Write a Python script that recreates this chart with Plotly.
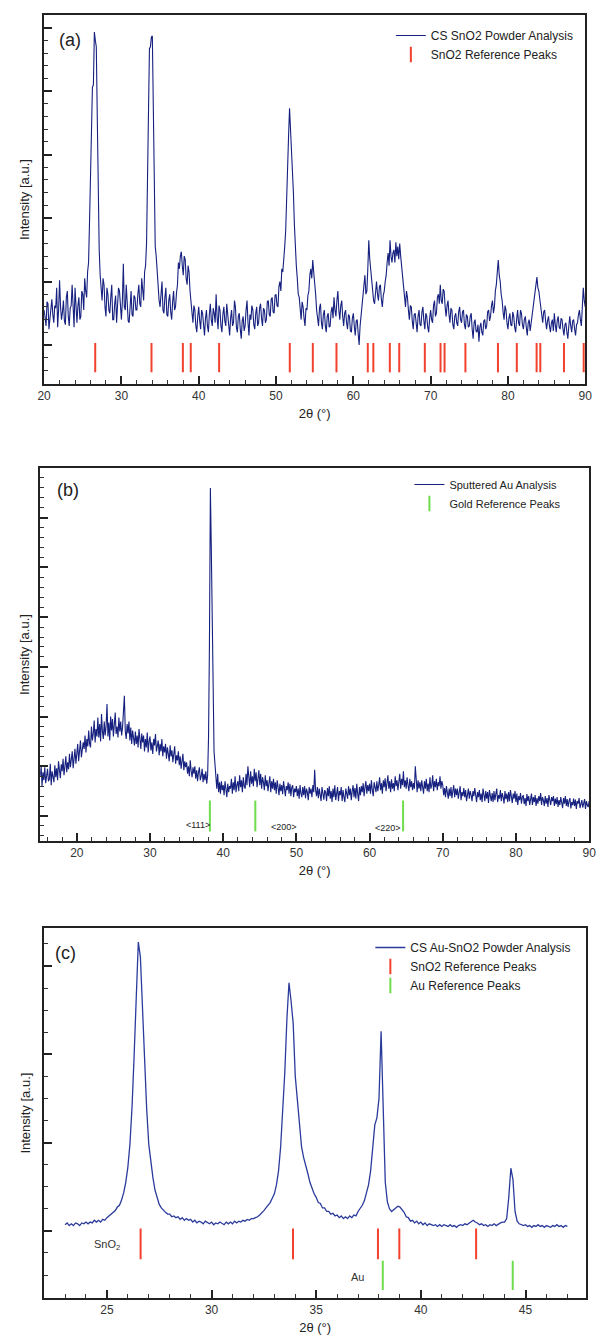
import numpy as np
import plotly.graph_objects as go

# ---------------- data ----------------
# (a) CS SnO2 powder, 2theta from 20 deg, step 0.125 deg
start_a, step_a = 20.0, 0.125
intensity_a = [
    0.55, 0.42, 0.30, 0.68, 0.65, 0.25, 0.40, 0.60,
    0.72, 0.48, 0.35, 0.62, 0.58, 0.90, 0.28, 0.55,
    1.02, 0.60, 0.40, 0.52, 0.70, 0.38, 0.32, 0.75,
    0.85, 0.45, 0.30, 0.58, 0.62, 0.95, 0.42, 0.28,
    0.90, 0.50, 0.35, 0.62, 0.75, 0.40, 0.45, 0.85,
    0.80, 0.55, 1.05, 0.85, 0.75, 1.15, 1.30, 1.95,
    2.70, 3.50, 4.06, 4.10, 4.93, 4.80, 4.70, 3.60,
    2.20, 1.50, 1.10, 0.85, 0.70, 1.05, 0.95, 0.60,
    0.45, 0.90, 0.80, 0.55, 0.50, 0.75, 0.95, 0.40,
    0.40, 0.65, 0.78, 0.35, 0.55, 0.90, 0.85, 0.50,
    0.40, 0.70, 1.28, 0.60, 0.55, 0.95, 0.70, 0.38,
    0.35, 0.60, 0.85, 0.48, 0.45, 0.78, 0.75, 0.55,
    0.55, 0.80, 0.95, 0.65, 0.60, 1.05, 0.80, 0.70,
    1.15, 1.25, 1.60, 2.65, 3.20, 4.67, 4.70, 4.85,
    4.87, 3.50, 2.00, 1.55, 1.40, 1.15, 0.95, 0.70,
    0.60, 0.85, 1.00, 0.55, 0.50, 0.75, 0.90, 0.48,
    0.45, 0.70, 0.80, 0.52, 0.40, 0.68, 0.85, 0.55,
    0.60, 0.82, 0.95, 1.30, 1.20, 1.40, 1.47, 1.25,
    1.10, 1.40, 1.35, 1.05, 0.95, 1.25, 1.15, 0.85,
    0.70, 0.50, 0.35, 0.62, 0.55, 0.30, 0.20, 0.45,
    0.60, 0.38, 0.25, 0.55, 0.50, 0.32, 0.15, 0.42,
    0.55, 0.30, 0.20, 0.48, 0.65, 0.40, 0.30, 0.58,
    0.50, 0.35, 0.80, 0.45, 0.25, 0.62, 0.55, 0.30,
    0.20, 0.48, 0.60, 0.38, 0.30, 0.65, 0.50, 0.25,
    0.15, 0.42, 0.55, 0.30, 0.35, 0.70, 0.60, 0.28,
    0.20, 0.45, 0.50, 0.25, 0.10, 0.38, 0.45, 0.22,
    0.30, 0.55, 0.70, 0.35, 0.15, 0.48, 0.40, 0.62,
    0.55, 0.32, 0.25, 0.50, 0.60, 0.30, 0.35, 0.58,
    0.65, 0.42, 0.30, 0.58, 0.55, 0.35, 0.40, 0.68,
    0.70, 0.48, 0.45, 0.72, 0.75, 0.52, 0.50, 0.78,
    0.80, 0.62, 0.60, 0.92, 1.00, 0.85, 1.20, 1.15,
    1.30, 1.55, 1.80, 2.20, 2.76, 3.30, 3.73, 3.40,
    3.10, 2.85, 2.40, 1.90, 1.50, 1.25, 1.05, 0.80,
    0.75, 0.55, 0.40, 0.68, 0.60, 0.42, 0.30, 0.58,
    0.55, 0.78, 0.85, 1.10, 1.20, 1.05, 1.34, 1.15,
    1.00, 0.80, 0.55, 0.40, 0.30, 0.58, 0.65, 0.35,
    0.25, 0.48, 0.55, 0.30, 0.20, 0.45, 0.50, 0.28,
    0.30, 0.52, 0.60, 0.42, 0.75, 0.55, 0.45, 0.70,
    0.85, 0.55, 0.40, 0.62, 0.70, 0.45, 0.30, 0.50,
    0.55, 0.35, 0.25, 0.48, 0.45, 0.22, 0.20, 0.42,
    0.50, 0.30, 0.15, 0.38, 0.40, 0.18, 0.00, 0.30,
    0.45, 0.62, 0.70, 0.95, 1.10, 0.80, 0.85, 1.20,
    1.65, 1.35, 1.20, 0.95, 0.90, 0.70, 0.65, 0.88,
    1.00, 0.80, 0.70, 0.92, 0.95, 0.72, 0.60, 0.78,
    0.85, 1.00, 1.10, 1.30, 1.45, 1.25, 1.65, 1.40,
    1.30, 1.45, 1.50, 1.30, 1.62, 1.40, 1.55, 1.35,
    1.60, 1.40, 1.25, 1.05, 0.95, 0.80, 0.60, 0.85,
    0.75, 0.55, 0.40, 0.62, 0.60, 0.38, 0.25, 0.48,
    0.50, 0.35, 0.20, 0.45, 0.55, 0.32, 0.30, 0.52,
    0.60, 0.38, 0.25, 0.50, 0.45, 0.28, 0.20, 0.42,
    0.55, 0.40, 0.35, 0.62, 0.70, 0.45, 0.50, 0.75,
    0.80, 0.65, 0.95, 0.70, 0.65, 0.88, 0.85, 0.60,
    0.45, 0.62, 0.70, 0.48, 0.35, 0.58, 0.55, 0.32,
    0.25, 0.45, 0.50, 0.35, 0.30, 0.52, 0.60, 0.40,
    0.35, 0.52, 0.55, 0.32, 0.25, 0.48, 0.45, 0.28,
    0.30, 0.45, 0.50, 0.25, 0.10, 0.35, 0.40, 0.22,
    0.20, 0.32, 0.05, 0.28, 0.35, 0.20, 0.15, 0.38,
    0.40, 0.25, 0.30, 0.52, 0.55, 0.38, 0.45, 0.62,
    0.70, 0.50, 0.60, 0.85, 0.95, 1.15, 1.34, 1.10,
    1.00, 0.80, 0.70, 0.52, 0.40, 0.62, 0.55, 0.35,
    0.25, 0.42, 0.50, 0.32, 0.30, 0.52, 0.45, 0.28,
    0.20, 0.40, 0.55, 0.35, 0.30, 0.55, 0.50, 0.32,
    0.25, 0.40, 0.45, 0.28, 0.15, 0.35, 0.40, 0.22,
    0.35, 0.50, 0.60, 0.72, 0.80, 0.95, 1.07, 0.90,
    0.85, 0.72, 0.60, 0.42, 0.35, 0.52, 0.55, 0.38,
    0.25, 0.38, 0.45, 0.30, 0.20, 0.35, 0.40, 0.22,
    0.50, 0.32, 0.20, 0.38, 0.45, 0.28, 0.25, 0.42,
    0.40, 0.25, 0.15, 0.32, 0.35, 0.20, 0.10, 0.30,
    0.45, 0.30, 0.20, 0.38, 0.40, 0.25, 0.15, 0.32,
    0.35, 0.48, 0.55, 0.40, 0.30, 0.60, 0.90, 0.70,
    0.60,
]
sno2_peaks_a = [26.61, 33.89, 37.95, 38.97, 42.64, 51.78, 54.76, 57.82, 61.87,
                62.59, 64.72, 65.94, 69.25, 71.28, 71.80, 74.50, 78.71, 81.15,
                83.71, 84.19, 87.25, 89.80]

# (b) sputtered Au, 2theta from 15 deg, step 0.125 deg
start_b, step_b = 15.0, 0.125
intensity_b = [
    0.80, 1.02, 0.60, 0.88, 0.72, 0.98, 0.66, 0.84,
    0.95, 0.70, 0.74, 1.05, 0.62, 0.90, 0.80, 0.68,
    1.02, 0.78, 0.96, 0.72, 1.10, 0.85, 0.76, 1.04,
    0.90, 1.15, 0.82, 1.00, 1.20, 0.88, 1.08, 0.94,
    1.25, 0.98, 1.12, 1.30, 0.96, 1.18, 1.35, 1.05,
    1.22, 1.45, 1.10, 1.38, 1.52, 1.18, 1.30, 1.48,
    1.35, 1.62, 1.28, 1.55, 1.40, 1.72, 1.45, 1.38,
    1.80, 1.52, 1.66, 1.92, 1.48, 1.75, 1.60, 1.98,
    1.58, 1.85, 1.50, 2.05, 1.70, 1.55, 1.90, 1.62,
    1.80, 2.25, 1.60, 1.88, 1.52, 2.00, 1.72, 1.95,
    1.60, 1.88, 2.08, 1.65, 1.80, 1.58, 1.98, 1.70,
    1.90, 1.62, 1.78, 2.10, 2.42, 1.70, 1.55, 1.85,
    1.66, 1.90, 1.52, 1.78, 1.45, 1.72, 1.60, 1.42,
    1.70, 1.45, 1.62, 1.38, 1.75, 1.52, 1.35, 1.66,
    1.48, 1.62, 1.30, 1.55, 1.38, 1.68, 1.28, 1.50,
    1.60, 1.32, 1.48, 1.25, 1.55, 1.42, 1.65, 1.30,
    1.38, 1.52, 1.22, 1.45, 1.30, 1.55, 1.20, 1.40,
    1.28, 1.45, 1.15, 1.38, 1.25, 1.10, 1.42, 1.20,
    1.32, 1.08, 1.25, 1.40, 1.05, 1.22, 1.12, 1.30,
    1.02, 1.20, 0.95, 1.15, 1.25, 0.92, 1.10, 0.98,
    1.08, 0.85, 1.00, 0.80, 1.12, 0.90, 0.78, 0.98,
    0.85, 1.00, 0.75, 0.92, 0.70, 0.88, 0.98, 0.72,
    0.80, 0.95, 0.68, 0.85, 0.72, 0.90, 0.65, 0.82,
    1.60, 3.50, 6.60, 5.40, 4.00, 2.20, 1.30, 1.05,
    0.75, 0.55, 0.85, 0.48, 0.68, 0.45, 0.70, 0.52,
    0.62, 0.42, 0.70, 0.50, 0.38, 0.65, 0.48, 0.60,
    0.55, 0.75, 0.45, 0.68, 0.52, 0.80, 0.48, 0.62,
    0.70, 0.50, 0.82, 0.58, 0.72, 0.48, 0.78, 0.60,
    0.55, 0.85, 0.62, 1.00, 0.68, 0.58, 0.90, 0.65,
    0.80, 0.60, 0.95, 0.70, 0.88, 0.58, 0.75, 0.92,
    0.62, 0.85, 0.55, 0.78, 0.68, 0.52, 0.82, 0.60,
    0.72, 0.50, 0.66, 0.80, 0.48, 0.70, 0.55, 0.75,
    0.52, 0.68, 0.45, 0.72, 0.58, 0.42, 0.65, 0.50,
    0.62, 0.44, 0.70, 0.50, 0.40, 0.60, 0.52, 0.68,
    0.45, 0.65, 0.40, 0.58, 0.62, 0.38, 0.55, 0.48,
    0.60, 0.40, 0.55, 0.35, 0.62, 0.45, 0.38, 0.58,
    0.42, 0.60, 0.36, 0.55, 0.48, 0.32, 0.58, 0.45,
    0.55, 0.38, 0.62, 0.48, 0.93, 0.52, 0.40, 0.58,
    0.36, 0.55, 0.42, 0.30, 0.58, 0.45, 0.33, 0.52,
    0.48, 0.30, 0.56, 0.40, 0.60, 0.35, 0.50, 0.28,
    0.55, 0.38, 0.62, 0.32, 0.48, 0.58, 0.30, 0.50,
    0.42, 0.58, 0.30, 0.52, 0.38, 0.28, 0.55, 0.45,
    0.35, 0.60, 0.42, 0.55, 0.32, 0.50, 0.62, 0.38,
    0.56, 0.35, 0.65, 0.45, 0.30, 0.58, 0.42, 0.60,
    0.48, 0.66, 0.40, 0.58, 0.70, 0.45, 0.62, 0.50,
    0.65, 0.45, 0.72, 0.52, 0.40, 0.68, 0.55, 0.48,
    0.70, 0.50, 0.62, 0.78, 0.52, 0.66, 0.45, 0.72,
    0.58, 0.76, 0.50, 0.68, 0.82, 0.55, 0.70, 0.48,
    0.74, 0.55, 0.66, 0.50, 0.80, 0.60, 0.72, 0.52,
    0.68, 0.85, 0.55, 0.75, 0.62, 0.90, 0.58, 0.72,
    0.55, 0.78, 0.62, 0.50, 0.75, 0.58, 0.70, 0.52,
    0.66, 0.55, 1.00, 0.62, 0.48, 0.72, 0.55, 0.68,
    0.50, 0.72, 0.60, 0.45, 0.70, 0.55, 0.75, 0.50,
    0.65, 0.48, 0.78, 0.55, 0.62, 0.82, 0.50, 0.70,
    0.58, 0.75, 0.52, 0.68, 0.60, 0.80, 0.55, 0.70,
    0.62, 0.42, 0.56, 0.38, 0.60, 0.45, 0.35, 0.55,
    0.40, 0.58, 0.36, 0.50, 0.62, 0.38, 0.55, 0.42,
    0.55, 0.35, 0.50, 0.60, 0.32, 0.48, 0.40, 0.56,
    0.38, 0.52, 0.30, 0.46, 0.55, 0.35, 0.50, 0.42,
    0.30, 0.50, 0.40, 0.56, 0.34, 0.28, 0.48, 0.38,
    0.52, 0.32, 0.45, 0.28, 0.55, 0.40, 0.30, 0.50,
    0.35, 0.48, 0.26, 0.52, 0.40, 0.30, 0.46, 0.28,
    0.50, 0.32, 0.44, 0.55, 0.28, 0.42, 0.35, 0.52,
    0.30, 0.46, 0.38, 0.25, 0.50, 0.34, 0.45, 0.28,
    0.48, 0.30, 0.52, 0.40, 0.26, 0.45, 0.35, 0.50,
    0.28, 0.45, 0.22, 0.40, 0.32, 0.46, 0.25, 0.38,
    0.42, 0.24, 0.36, 0.20, 0.44, 0.30, 0.40, 0.22,
    0.35, 0.45, 0.22, 0.38, 0.28, 0.42, 0.20, 0.36,
    0.25, 0.40, 0.30, 0.46, 0.22, 0.38, 0.32, 0.20,
    0.40, 0.25, 0.36, 0.18, 0.42, 0.28, 0.22, 0.38,
    0.30, 0.40, 0.20, 0.35, 0.24, 0.38, 0.18, 0.32,
    0.22, 0.38, 0.28, 0.16, 0.36, 0.25, 0.40, 0.20,
    0.34, 0.18, 0.30, 0.36, 0.15, 0.28, 0.22, 0.35,
    0.20, 0.33, 0.14, 0.30, 0.25, 0.36, 0.16, 0.28,
    0.32, 0.17, 0.26, 0.34, 0.14, 0.30, 0.22, 0.18,
    0.30,
]
gold_peaks_b = [38.18, 44.39, 64.58]
gold_labels_b = ["&lt;111&gt;", "&lt;200&gt;", "&lt;220&gt;"]

# (c) CS Au-SnO2 powder, 2theta from 23 deg, step 0.1 deg
start_c, step_c = 23.0, 0.1
intensity_c = [
    0.07, 0.09, 0.06, 0.08, 0.06, 0.09, 0.08, 0.06, 0.09, 0.08,
    0.10, 0.08, 0.10, 0.09, 0.12, 0.10, 0.12, 0.10, 0.13, 0.12,
    0.15, 0.17, 0.18, 0.21, 0.23, 0.27, 0.29, 0.35, 0.43, 0.55,
    0.72, 0.98, 1.40, 1.98, 2.65, 3.27, 3.10, 2.45, 1.85, 1.38,
    0.98, 0.76, 0.60, 0.46, 0.37, 0.30, 0.26, 0.23, 0.21, 0.19,
    0.19, 0.16, 0.17, 0.15, 0.16, 0.13, 0.15, 0.12, 0.14, 0.12,
    0.13, 0.10, 0.12, 0.09, 0.11, 0.10, 0.08, 0.11, 0.09, 0.08,
    0.10, 0.07, 0.09, 0.08, 0.10, 0.08, 0.07, 0.10, 0.08, 0.10,
    0.08, 0.11, 0.09, 0.11, 0.10, 0.12, 0.11, 0.13, 0.12, 0.14,
    0.14, 0.15, 0.16, 0.18, 0.20, 0.23, 0.26, 0.29, 0.32, 0.37,
    0.42, 0.52, 0.68, 0.95, 1.35, 1.80, 2.40, 2.81, 2.60, 2.35,
    1.75, 1.45, 1.15, 0.95, 0.83, 0.75, 0.65, 0.55, 0.47, 0.42,
    0.38, 0.32, 0.31, 0.26, 0.26, 0.22, 0.22, 0.19, 0.20, 0.17,
    0.18, 0.15, 0.17, 0.14, 0.16, 0.14, 0.17, 0.15, 0.18, 0.17,
    0.22, 0.25, 0.29, 0.34, 0.42, 0.52, 0.68, 0.92, 1.20, 1.28,
    1.50, 2.26, 1.50, 0.55, 0.33, 0.25, 0.22, 0.24, 0.27, 0.28,
    0.27, 0.24, 0.21, 0.16, 0.15, 0.11, 0.12, 0.09, 0.11, 0.08,
    0.10, 0.07, 0.09, 0.06, 0.08, 0.07, 0.06, 0.07, 0.05, 0.07,
    0.05, 0.07, 0.06, 0.05, 0.07, 0.05, 0.06, 0.04, 0.06, 0.07,
    0.06, 0.08, 0.07, 0.09, 0.10, 0.12, 0.10, 0.09, 0.07, 0.08,
    0.06, 0.07, 0.05, 0.07, 0.06, 0.08, 0.06, 0.08, 0.09, 0.10,
    0.10, 0.14, 0.38, 0.71, 0.58, 0.22, 0.11, 0.08, 0.07, 0.06,
    0.07, 0.05, 0.06, 0.04, 0.06, 0.05, 0.07, 0.05, 0.06, 0.04,
    0.06, 0.05, 0.04, 0.06, 0.05, 0.07, 0.05, 0.06, 0.04, 0.06,
    0.05,
]
sno2_peaks_c = [26.61, 33.89, 37.95, 38.97, 42.64]
au_peaks_c = [38.18, 44.39]

# ---------------- styling ----------------
W, H = 602, 1337
NAVY = "#15207f"
BLUE_C = "#2b3b9c"
RED = "#f2422d"
GREEN = "#6fdc4c"
FONT = "Liberation Sans, Arial, Helvetica, sans-serif"

def px_x(p):
    return p / W

def px_y(p):
    return 1 - p / H

two_theta_a = start_a + step_a * np.arange(len(intensity_a))
two_theta_b = start_b + step_b * np.arange(len(intensity_b))
two_theta_c = start_c + step_c * np.arange(len(intensity_c))

fig = go.Figure()

def ref_marks(peaks, level, color, size, name, xa, ya, legend):
    # bars in the plot, plus a shorter bar used only as the legend symbol
    bars = go.Scatter(
        x=peaks, y=[level] * len(peaks), mode="markers", name=name,
        marker=dict(symbol="line-ns", size=size, color=color,
                    line=dict(color=color, width=2)),
        xaxis=xa, yaxis=ya, legend=legend, showlegend=False, hoverinfo="x")
    key = go.Scatter(
        x=[None], y=[None], mode="markers", name=name,
        marker=dict(symbol="line-ns", size=11, color=color,
                    line=dict(color=color, width=2)),
        xaxis=xa, yaxis=ya, legend=legend, showlegend=True)
    return [bars, key]

# panel (a)
fig.add_trace(go.Scatter(x=two_theta_a, y=intensity_a, mode="lines",
                         name="CS SnO2 Powder Analysis",
                         line=dict(color=NAVY, width=1.1),
                         xaxis="x", yaxis="y", legend="legend"))
fig.add_traces(ref_marks(sno2_peaks_a, -0.20, RED, 21, "SnO2 Reference Peaks",
                         "x", "y", "legend"))

# panel (b)
fig.add_trace(go.Scatter(x=two_theta_b, y=intensity_b, mode="lines",
                         name="Sputtered Au Analysis",
                         line=dict(color=NAVY, width=1.1),
                         xaxis="x2", yaxis="y2", legend="legend2"))
fig.add_traces(ref_marks(gold_peaks_b, 0.0, GREEN, 22, "Gold Reference Peaks",
                         "x2", "y2", "legend2"))

# panel (c)
fig.add_trace(go.Scatter(x=two_theta_c, y=intensity_c, mode="lines",
                         name="CS Au-SnO2 Powder Analysis",
                         line=dict(color=BLUE_C, width=1.3),
                         xaxis="x3", yaxis="y3", legend="legend3"))
fig.add_traces(ref_marks(sno2_peaks_c, -0.147, RED, 22, "SnO2 Reference Peaks",
                         "x3", "y3", "legend3"))
fig.add_traces(ref_marks(au_peaks_c, -0.504, GREEN, 21, "Au Reference Peaks",
                         "x3", "y3", "legend3"))

def xaxis(domain, rng, dtick, mdtick, anchor):
    return dict(domain=domain, range=rng, anchor=anchor, dtick=dtick, tick0=0,
                showgrid=False, zeroline=False, showline=True, linecolor="#222",
                linewidth=1.5, mirror=True, ticks="inside", ticklen=8,
                tickwidth=1.5, tickcolor="#222",
                tickfont=dict(size=12, color="#333", family=FONT),
                minor=dict(dtick=mdtick, ticks="inside", ticklen=4,
                           tickwidth=1, tickcolor="#333", showgrid=False),
                title=dict(text="2θ (°)", font=dict(size=13, color="#222"),
                           standoff=7))

def yaxis(domain, rng, mdtick, anchor):
    return dict(domain=domain, range=rng, anchor=anchor, dtick=1, tick0=0,
                showgrid=False, zeroline=False, showline=True, linecolor="#222",
                linewidth=1.5, mirror=True, ticks="inside", ticklen=8,
                tickwidth=1.5, tickcolor="#222", showticklabels=False,
                minor=dict(dtick=mdtick, ticks="inside", ticklen=4,
                           tickwidth=1, tickcolor="#333", showgrid=False))

dom_a_y = [px_y(384), px_y(15)]
dom_b_y = [px_y(841), px_y(468)]
dom_c_y = [px_y(1298), px_y(928)]

def legend(x_px, top_px, size):
    return dict(x=px_x(x_px), y=px_y(top_px), xanchor="left", yanchor="top",
                bgcolor="rgba(0,0,0,0)", borderwidth=0, itemsizing="trace",
                tracegroupgap=0,
                font=dict(size=size, color="#222", family=FONT))

def paper_text(text, xp, yp, size, angle=0):
    return dict(text=text, x=px_x(xp), y=px_y(yp), xref="paper", yref="paper",
                xanchor="center", yanchor="middle", textangle=angle,
                showarrow=False, font=dict(size=size, color="#222"))

annotations = [
    paper_text("(a)", 64, 40, 18),
    paper_text("(b)", 62, 490, 18),
    paper_text("(c)", 60, 953, 18),
]
for top, bottom in ((15, 384), (468, 841), (928, 1298)):
    annotations.append(paper_text("Intensity [a.u.]", 18, (top + bottom) / 2,
                                  13, angle=-90))
gold_label_x = [36.6, 48.3, 62.5]
gold_label_y = [-0.18, -0.22, -0.24]
for lx, ly, t in zip(gold_label_x, gold_label_y, gold_labels_b):
    annotations.append(dict(text=t, x=lx, y=ly, xref="x2", yref="y2",
                            xanchor="center", yanchor="middle",
                            showarrow=False, font=dict(size=9, color="#222")))
annotations.append(dict(text="SnO<sub>2</sub>", x=25.0, y=-0.16, xref="x3",
                        yref="y3", xanchor="center", yanchor="middle",
                        showarrow=False, font=dict(size=11, color="#333")))
annotations.append(dict(text="Au", x=36.95, y=-0.52, xref="x3", yref="y3",
                        xanchor="center", yanchor="middle",
                        showarrow=False, font=dict(size=11, color="#333")))

fig.update_layout(
    width=W, height=H, margin=dict(l=0, r=0, t=0, b=0),
    paper_bgcolor="white", plot_bgcolor="white",
    font=dict(family=FONT, size=12, color="#222"),
    showlegend=True,
    xaxis=xaxis([px_x(38), px_x(592)], [20, 90], 10, 2, "y"),
    yaxis=yaxis(dom_a_y, [-0.615, 5.2], 0.2, "x"),
    xaxis2=xaxis([px_x(34), px_x(596)], [15, 90], 10, 2, "y2"),
    yaxis2=yaxis(dom_b_y, [-0.503, 7.0], 0.2, "x2"),
    xaxis3=xaxis([px_x(38), px_x(593)], [22, 47.9], 5, 1, "y3"),
    yaxis3=yaxis(dom_c_y, [-0.76, 3.43], 0.25, "x3"),
    legend=legend(393, 21, 12),
    legend2=legend(412, 470, 11),
    legend3=legend(372, 933, 12),
    annotations=annotations,
)

fig.write_html("out.html", config={"displayModeBar": False},
               post_script="document.body.style.margin='0px';")
